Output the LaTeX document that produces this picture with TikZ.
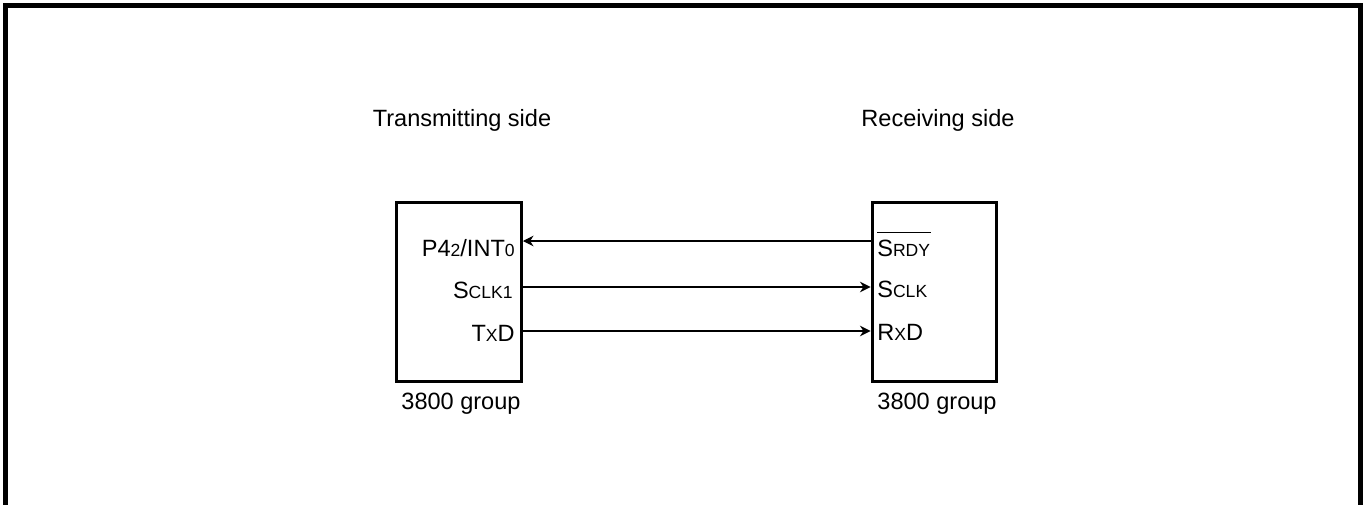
\documentclass[tikz,border=0pt]{standalone}
\usepackage{fontspec}
\setmainfont{Liberation Sans}
\usetikzlibrary{arrows.meta,positioning}
\newcommand{\sml}[1]{{\fontsize{10}{11}\selectfont #1}}

\begin{document}
\begin{tikzpicture}[x=0.02cm,y=-0.02cm,
      chip/.style={draw,line width=0.06cm,minimum width=2.5cm,minimum height=3.58cm,inner sep=0pt},
      sig/.style={-{Stealth[length=6pt,width=6pt]},line width=0.6pt},
      pin/.style={inner sep=0pt},
      every node/.style={font=\fontsize{13.4}{15}\selectfont}
    ]
    \useasboundingbox (0,0) rectangle (1366,504);
    \draw[line width=0.1cm] (5.5,5.5) rectangle (1360.5,530);

    \node[anchor=base] (txt) at (462,126) {Transmitting side};
    \node[anchor=base] (rxt) at (938,126) {Receiving side};

    \node[chip] (tx) at (459,292) {};
    \node[chip] (rx) at (934.5,292) {};
    \node[anchor=base] (txg) at (461,409) {3800 group};
    \node[anchor=base] (rxg) at (937,409) {3800 group};

    % pins of the transmitting side
    \node[pin,anchor=base east] (p42) at (515,256) {P4\sml{2}/INT\sml{0}};
    \node[pin,anchor=base east] (sclko) at (513,298) {S\sml{CLK1}};
    \node[pin,anchor=base east] (txd) at (515,341) {T\sml{X}D};

    % pins of the receiving side
    \node[pin,anchor=base west] (srdy) at (877,256) {S\sml{RDY}};
    \draw[line width=0.6pt] ([yshift=0.14cm]srdy.north west) -- ([yshift=0.14cm]srdy.north east);
    \node[pin,anchor=base west] (sclki) at (877,297) {S\sml{CLK}};
    \node[pin,anchor=base west] (rxd) at (877,340) {R\sml{X}D};

    \coordinate (tx1) at (tx.east |- 0,241);
    \coordinate (tx2) at (tx.east |- 0,287);
    \coordinate (tx3) at (tx.east |- 0,331);
    \coordinate (rx1) at (rx.west |- 0,241);
    \coordinate (rx2) at (rx.west |- 0,287);
    \coordinate (rx3) at (rx.west |- 0,331);

    \draw[sig] (rx1) -- (tx1);
    \draw[sig] (tx2) -- (rx2);
    \draw[sig] (tx3) -- (rx3);
  \end{tikzpicture}
\end{document}
